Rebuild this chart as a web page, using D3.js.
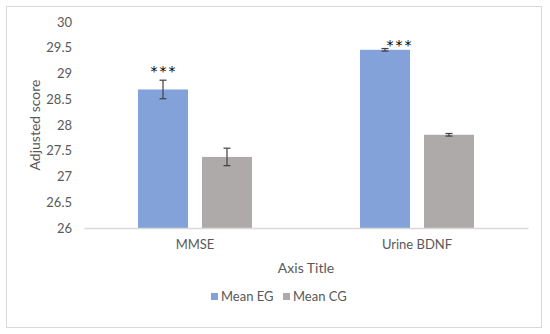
<!DOCTYPE html>
<html><head><meta charset="utf-8">
<script src="https://cdn.jsdelivr.net/npm/d3@7"></script>
<style>body{margin:0;background:#fff}svg{display:block}text{font-family:Lato,"Open Sans",sans-serif;fill:#595959}</style>
</head><body>
<svg id="c" width="550" height="334"></svg>
<script>
const categories = ["MMSE", "Urine BDNF"];
const seriesNames = ["Mean EG", "Mean CG"];
const meanEG = [28.69, 29.46];
const meanCG = [27.38, 27.81];
const errEG = [0.18, 0.025];
const errCG = [0.17, 0.025];
const significance = ["***", "***"];
const yTicks = [26, 26.5, 27, 27.5, 28, 28.5, 29, 29.5, 30];
const colors = ["#84a2da", "#aeaaaa"];

const svg = d3.select("#c");
svg.append("rect").attr("x",6.5).attr("y",6.5).attr("width",535).attr("height",321)
  .attr("fill","none").attr("stroke","#d9d9d9");

const x0 = d3.scaleBand().domain(categories).range([84, 528]);
const x1 = d3.scaleBand().domain(seriesNames).range([0, x0.bandwidth()]).paddingInner(0.219).paddingOuter(0.844);
const y = d3.scaleLinear().domain([26, 30]).range([228, 22]);

const ya = svg.append("g").attr("transform","translate(72,0)")
  .call(d3.axisLeft(y).tickValues(yTicks).tickSize(0).tickPadding(0).tickFormat(d3.format("")));
ya.select(".domain").remove();
ya.selectAll("text").attr("font-size",13).style("font-family","Lato,'Open Sans',sans-serif").attr("fill","#595959");

const series = [meanEG, meanCG], errs = [errEG, errCG];
categories.forEach((c, i) => {
  const g = svg.append("g").attr("transform", `translate(${x0(c)},0)`);
  seriesNames.forEach((s, j) => {
    const v = series[j][i], e = errs[j][i];
    const bx = x1(s), bw = x1.bandwidth();
    g.append("rect").attr("x", bx).attr("y", y(v)).attr("width", bw).attr("height", y(26) - y(v)).attr("fill", colors[j]);
    const cx = bx + bw/2;
    g.append("line").attr("x1",cx).attr("x2",cx).attr("y1",y(v+e)).attr("y2",y(v-e)).attr("stroke","#404040").attr("stroke-width",1.2);
    [v+e, v-e].forEach(t => g.append("line").attr("x1",cx-3.5).attr("x2",cx+3.5).attr("y1",y(t)).attr("y2",y(t)).attr("stroke","#404040").attr("stroke-width",1.2));
  });
});
const starStyle = t => t.attr("text-anchor","middle").attr("font-size",14).style("fill","#000")
  .style("font-family","'DejaVu Sans',sans-serif").style("letter-spacing","2px");
svg.append("text").attr("x", x0("MMSE")+x1("Mean EG")+x1.bandwidth()/2 + 1).attr("y", y(meanEG[0]+errEG[0]) - 4)
  .call(starStyle).text(significance[0]);
svg.append("text").attr("x", x0("Urine BDNF")+x1("Mean EG")+x1.bandwidth()/2 + 15).attr("y", y(meanEG[1]+errEG[1]) + 1.5)
  .call(starStyle).text(significance[1]);

const xa = svg.append("g").attr("transform","translate(0,228)")
  .call(d3.axisBottom(x0).tickSize(0).tickPadding(12));
xa.select(".domain").attr("stroke","#d9d9d9").attr("stroke-width",1.5);
xa.selectAll("text").attr("font-size",13).style("font-family","Lato,'Open Sans',sans-serif").attr("fill","#595959");

svg.append("text").attr("x",306).attr("y",273).attr("text-anchor","middle").attr("font-size",14).text("Axis Title");
svg.append("text").attr("transform","translate(40,125) rotate(-90)").attr("text-anchor","middle").attr("font-size",14).text("Adjusted score");

const lg = svg.append("g");
const lx = [211, 283];
seriesNames.forEach((s, j) => {
  lg.append("rect").attr("x", lx[j]).attr("y", 293).attr("width", 7).attr("height", 7).attr("fill", colors[j]);
  lg.append("text").attr("x", lx[j]+10).attr("y", 301).attr("font-size",13).text(s);
});
</script>
</body></html>
